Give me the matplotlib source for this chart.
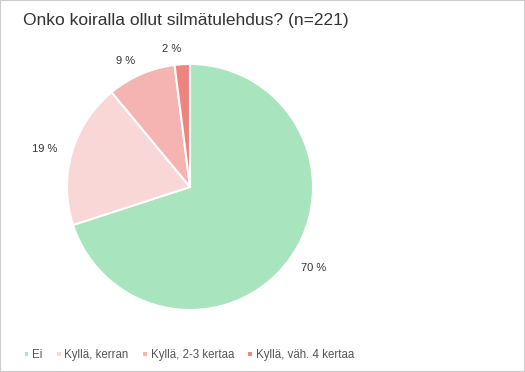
import matplotlib.pyplot as plt
from matplotlib.patches import Rectangle

# data
labels = ['Ei', 'Kyllä, kerran', 'Kyllä, 2-3 kertaa', 'Kyllä, väh. 4 kertaa']
values = [70, 19, 9, 2]
colors = ['#a8e4bd', '#f9d7d6', '#f5b4b1', '#ed847d']

plt.rcParams['font.family'] = ['Liberation Sans', 'DejaVu Sans']

fig = plt.figure(figsize=(5.25, 3.72), dpi=100)
ax = fig.add_axes([0.1276, 0.1667, 0.4686, 0.6613])

wedges, texts = ax.pie(values, colors=colors, startangle=90, counterclock=False,
                       labels=['%d %%' % v for v in values], labeldistance=1.12,
                       wedgeprops=dict(edgecolor='white', linewidth=1.5),
                       textprops=dict(fontsize=8, color='#333333'))
ax.set_xlim(-1, 1)
ax.set_ylim(-1, 1)
ax.set_aspect('equal')

fig.text(0.044, 0.945, 'Onko koiralla ollut silmätulehdus? (n=221)',
         fontsize=12.5, color='#333333', va='center', ha='left')

leg = fig.legend(wedges, labels, loc='center left', bbox_to_anchor=(0.025, 0.046),
                 ncol=4, frameon=False, fontsize=8.3, handlelength=0.5, handleheight=0.5,
                 handletextpad=0.25, columnspacing=1.15, labelcolor='#555555')

fig.patches.append(Rectangle((0, 0), 1, 1, transform=fig.transFigure, fill=False,
                             edgecolor='#cccccc', linewidth=1.5))

plt.savefig('out.png', dpi=100)
